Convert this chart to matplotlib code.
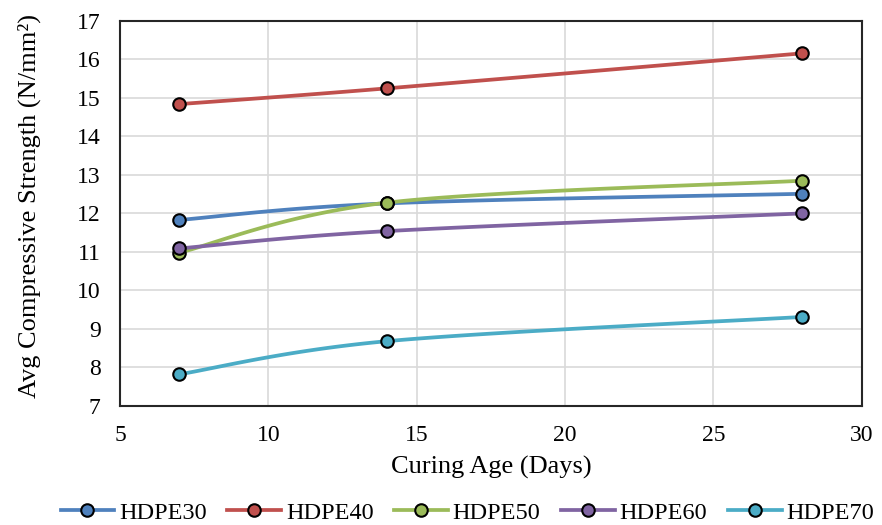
import numpy as np
import matplotlib.pyplot as plt

plt.rcParams['font.family'] = ['Liberation Serif', 'DejaVu Serif']

days = [7, 14, 28]
hdpe30 = [11.83, 12.26, 12.51]
hdpe40 = [14.84, 15.25, 16.16]
hdpe50 = [10.98, 12.28, 12.85]
hdpe60 = [11.09, 11.54, 12.00]
hdpe70 = [7.82, 8.68, 9.31]

names = ['HDPE30', 'HDPE40', 'HDPE50', 'HDPE60', 'HDPE70']
colors = ['#4F81BD', '#C0504D', '#9BBB59', '#8064A2', '#4BACC6']


def smooth(x, y, n=40):
    # catmull-rom style bezier, like excel's smoothed line
    x = np.asarray(x, float)
    y = np.asarray(y, float)
    px = np.concatenate([[x[0]], x, [x[-1]]])
    py = np.concatenate([[y[0]], y, [y[-1]]])
    xs, ys = [], []
    t = np.linspace(0, 1, n)
    for i in range(1, len(px) - 2):
        p0 = np.array([px[i], py[i]])
        p3 = np.array([px[i + 1], py[i + 1]])
        c1 = p0 + (np.array([px[i + 1], py[i + 1]]) - np.array([px[i - 1], py[i - 1]])) / 6
        c2 = p3 - (np.array([px[i + 2], py[i + 2]]) - np.array([px[i], py[i]])) / 6
        b = ((1 - t) ** 3)[:, None] * p0 + (3 * (1 - t) ** 2 * t)[:, None] * c1 \
            + (3 * (1 - t) * t ** 2)[:, None] * c2 + (t ** 3)[:, None] * p3
        xs.extend(b[:, 0])
        ys.extend(b[:, 1])
    return xs, ys


fig = plt.figure(figsize=(8.82, 5.25), dpi=100)
ax = fig.add_axes([0.136, 0.227, 0.841, 0.733])

for name, vals, c in zip(names, [hdpe30, hdpe40, hdpe50, hdpe60, hdpe70], colors):
    sx, sy = smooth(days, vals)
    ax.plot(sx, sy, color=c, lw=2.7, zorder=3)
    ax.plot(days, vals, 'o', color=c, mec='black', mew=1.5, ms=9, zorder=4)
    ax.plot([], [], '-o', color=c, mec='black', mew=1.5, ms=9, lw=2.7, label=name)

ax.set_xlim(5, 30)
ax.set_ylim(7, 17)
ax.set_xticks(range(5, 31, 5))
ax.set_yticks(range(7, 18))
ax.grid(True, color='#d9d9d9', lw=1.2)
ax.set_axisbelow(True)
for s in ax.spines.values():
    s.set_color('#262626')
    s.set_linewidth(1.5)
ax.tick_params(length=0, labelsize=17, pad=14)
ax.set_xlabel('Curing Age (Days)', fontsize=19)
ax.set_ylabel('Avg Compressive Strength (N/mm²)', fontsize=19)
ax.xaxis.set_label_coords(0.5, -0.13)
ax.yaxis.set_label_coords(-0.106, 0.519)

fig.legend(loc='center', bbox_to_anchor=(0.53, 0.023), ncol=5, frameon=False,
           fontsize=17.5, handlelength=2.2, columnspacing=0.86, handletextpad=0.2)

fig.savefig('out.png', dpi=100)
